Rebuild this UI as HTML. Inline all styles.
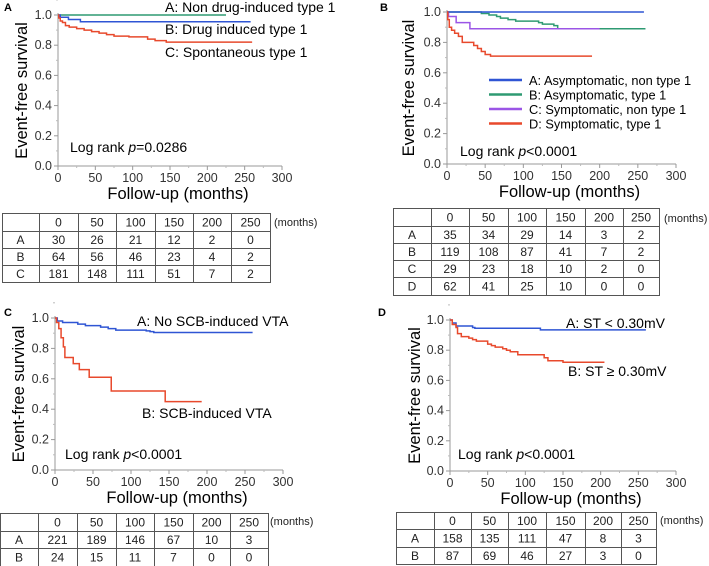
<!DOCTYPE html>
<html><head><meta charset="utf-8"><style>
html,body{margin:0;padding:0;background:#fff;}
svg{display:block;font-family:"Liberation Sans",sans-serif;}
</style></head><body>
<svg id="fig" width="709" height="566" viewBox="0 0 709 566"></svg>
<script>
// ----- data -----
const xTicks = [0,50,100,150,200,250,300];
const yTicks = [0,0.2,0.4,0.6,0.8,1.0];
const tableCols = ["0","50","100","150","200","250"];

const aNames = ["A: Non drug-induced type 1","B: Drug induced type 1","C: Spontaneous type 1"];
const aGreenT = [0,225];           const aGreenS = [1,1];
const aBlueT  = [0,3,14,30,258];   const aBlueS  = [1,0.985,0.97,0.955,0.955];
const aRedT = [0,1,3,6,10,15,25,35,45,55,65,75,95,120,130,145,260];
const aRedS = [1,0.98,0.96,0.95,0.93,0.92,0.91,0.9,0.89,0.88,0.87,0.86,0.855,0.84,0.83,0.82,0.82];
const aRows = [["A","30","26","21","12","2","0"],["B","64","56","46","23","4","2"],["C","181","148","111","51","7","2"]];

const bNames = ["A: Asymptomatic, non type 1","B: Asymptomatic, type 1","C: Symptomatic, non type 1","D: Symptomatic, type 1"];
const bAT = [0,258]; const bAS = [1,1];
const bBT = [0,45,55,65,70,80,90,120,125,140,145,260];
const bBS = [1,0.99,0.98,0.97,0.96,0.95,0.94,0.93,0.92,0.91,0.89,0.89];
const bCT = [0,2,12,30,200]; const bCS = [1,0.97,0.93,0.89,0.89];
const bDT = [0,1,3,6,10,15,20,35,40,45,50,57,190];
const bDS = [1,0.95,0.9,0.88,0.86,0.84,0.8,0.78,0.76,0.74,0.72,0.71,0.71];
const bRows = [["A","35","34","29","14","3","2"],["B","119","108","87","41","7","2"],["C","29","23","18","10","2","0"],["D","62","41","25","10","0","0"]];

const cNames = ["A: No SCB-induced VTA","B: SCB-induced VTA"];
const cAT = [0,3,10,30,40,60,70,80,120,125,130,260];
const cAS = [1,0.98,0.97,0.96,0.95,0.94,0.93,0.92,0.915,0.91,0.905,0.905];
const cBT = [0,2,5,8,11,13,24,32,45,74,145,193];
const cBS = [1,0.97,0.93,0.87,0.81,0.74,0.7,0.66,0.61,0.52,0.45,0.45];
const cRows = [["A","221","189","146","67","10","3"],["B","24","15","11","7","0","0"]];

const dNames = ["A: ST < 0.30mV","B: ST \u2265 0.30mV"];
const dAT = [0,3,8,30,33,120,260]; const dAS = [1,0.98,0.96,0.95,0.945,0.935,0.935];
const dBT = [0,3,8,10,15,25,30,35,50,55,60,70,75,80,90,125,130,150,205];
const dBS = [1,0.97,0.95,0.91,0.89,0.88,0.87,0.86,0.84,0.83,0.82,0.81,0.8,0.79,0.77,0.75,0.73,0.72,0.72];
const dRows = [["A","158","135","111","47","8","3"],["B","87","69","46","27","3","0"]];

const BLUE="#2f55d4", GREEN="#2e9a72", RED="#e8492c", PURPLE="#9b55e6";
const NS="http://www.w3.org/2000/svg";
const svg=document.getElementById('fig');
function el(tag,attrs,parent,txt){const e=document.createElementNS(NS,tag);for(const k in attrs)e.setAttribute(k,attrs[k]);if(txt!==undefined)e.textContent=txt;(parent||svg).appendChild(e);return e;}

function panel(g, letter, ax){
  const sx=t=>ax.x0+(ax.x300-ax.x0)*t/300;
  const sy=v=>ax.y0+(ax.y1-ax.y0)*v;
  const p=el('g',{},svg);
  
  
  const lt=el('text',{x:ax.lx,y:ax.ly,'font-size':11,'font-weight':'bold'},p,letter);
  
  
  el('line',{x1:ax.x0,y1:ax.y0,x2:ax.x0,y2:ax.y1-2,stroke:'#999','stroke-width':1},p);
  el('line',{x1:ax.x0,y1:ax.y0,x2:sx(300),y2:ax.y0,stroke:'#999','stroke-width':1},p);
  yTicks.forEach(v=>{
    el('line',{x1:ax.x0-4,x2:ax.x0,y1:sy(v),y2:sy(v),stroke:'#999'},p);
    el('line',{x1:ax.x0-2,x2:ax.x0,y1:sy(v+0.1),y2:sy(v+0.1),stroke:'#bbb'},p);
    const t=el('text',{x:ax.x0-6,y:sy(v)+4,'font-size':12.5,'text-anchor':'end',fill:'#333'},p,v.toFixed(1));
    
    
  });
  xTicks.forEach(v=>{
    el('line',{x1:sx(v),x2:sx(v),y1:ax.y0,y2:ax.y0+4,stroke:'#999'},p);
    if(v<300) el('line',{x1:sx(v+25),x2:sx(v+25),y1:ax.y0,y2:ax.y0+2,stroke:'#bbb'},p);
    const t=el('text',{x:sx(v),y:ax.y0+16,'font-size':12.5,'text-anchor':'middle',fill:'#333'},p,String(v));
    
    
  });
  const xt=el('text',{x:(ax.x0+sx(300))/2+8,y:ax.y0+33,'font-size':16.5,'text-anchor':'middle'},p,'Follow-up (months)');
  
  
  const yc=(ax.y0+ax.y1)/2;
  const yt=el('text',{x:ax.ytx,y:yc,'font-size':16.5,'text-anchor':'middle',transform:`rotate(-90 ${ax.ytx} ${yc})`},p,'Event-free survival');
  
  
  const lr=el('text',{x:ax.lrx,y:ax.lry,'font-size':14},p);
  
  
  el('tspan',{},lr,'Log rank ');el('tspan',{'font-style':'italic'},lr,'p');el('tspan',{},lr,ax.pval);
  return {p,sx,sy};
}
function curve(P,T,S,color,name){
  let d='M'+P.sx(T[0])+' '+P.sy(S[0]);
  for(let i=1;i<T.length;i++){d+=' H'+P.sx(T[i])+' V'+P.sy(S[i]);}
  const c=el('path',{d:d,fill:'none',stroke:color,'stroke-width':1.5},P.p);
  
  
}
function label(P,x,y,txt,name,fs){
  const t=el('text',{x:x,y:y,'font-size':fs||14,'textLength':'','lengthAdjust':'spacingAndGlyphs'},P.p,txt);
  t.removeAttribute('textLength');
  
  
}
function table(cols,rowYs,rows,mx,my,name){
  const g=el('g',{},svg);
  
  
  const X0=cols[0],X1=cols[cols.length-1],Y0=rowYs[0],Y1=rowYs[rowYs.length-1];
  el('rect',{x:X0+0.5,y:Y0+0.5,width:X1-X0,height:Y1-Y0,fill:'none',stroke:'#555'},g);
  cols.slice(1,-1).forEach(x=>el('line',{x1:x+0.5,x2:x+0.5,y1:Y0,y2:Y1,stroke:'#555'},g));
  rowYs.slice(1,-1).forEach(y=>el('line',{x1:X0,x2:X1,y1:y+0.5,y2:y+0.5,stroke:'#555'},g));
  const all=[[""].concat(tableCols)].concat(rows);
  all.forEach((r,ri)=>r.forEach((v,ci)=>{
    const t=el('text',{x:(cols[ci]+cols[ci+1])/2,y:(rowYs[ri]+rowYs[ri+1])/2+4.5,'font-size':12,'text-anchor':'middle',fill:'#222'},g,v);
    
    
  }));
  const m=el('text',{x:mx,y:my,'font-size':11,fill:'#222'},g,'(months)');
  
  
}

// Panel A
let P=panel(svg,'A',{x0:58,x300:282,y0:166,y1:15,lx:4,ly:11,ytx:27,lrx:70,lry:152,pval:'=0.0286'});
curve(P,aGreenT,aGreenS,GREEN,'curve-a-non-drug-induced');
curve(P,aBlueT,aBlueS,BLUE,'curve-b-drug-induced');
curve(P,aRedT,aRedS,RED,'curve-c-spontaneous');
label(P,165,12,aNames[0],'label-a');label(P,165,34,aNames[1],'label-b');label(P,165,57,aNames[2],'label-c');
table([2,39,78,116,155,193,231,270],[213,231,248,265,282],aRows,274,226,'risk-table-a');

// Panel B
P=panel(svg,'B',{x0:447,x300:676,y0:164,y1:12,lx:380,ly:11,ytx:414,lrx:460,lry:156,pval:'<0.0001'});
curve(P,bBT,bBS,GREEN,'curve-b-asym-type1');
curve(P,bCT,bCS,PURPLE,'curve-c-sym-non-type1');
curve(P,bAT,bAS,BLUE,'curve-a-asym-non-type1');
curve(P,bDT,bDS,RED,'curve-d-sym-type1');
[BLUE,GREEN,PURPLE,RED].forEach((c,i)=>{
  const y=80+i*14.5;
  const l=el('line',{x1:489,x2:522,y1:y,y2:y,stroke:c,'stroke-width':2.5},P.p);
  
  
  label(P,529,y+5,bNames[i],'legend-entry',12.8);
});
table([393,431,469,508,546,585,623,659],[208,226,243,260,277,295],bRows,664,222,'risk-table-b');

// Panel C
P=panel(svg,'C',{x0:55,x300:283,y0:470,y1:318,lx:4,ly:316,ytx:24,lrx:65,lry:459,pval:'<0.0001'});
curve(P,cAT,cAS,BLUE,'curve-a-no-scb-vta');
curve(P,cBT,cBS,RED,'curve-b-scb-vta');
label(P,137,326,cNames[0],'label-a');label(P,142,418,cNames[1],'label-b');
table([0,38,77,116,154,193,230,268],[513,531,548,566],cRows,270,525,'risk-table-c');

// Panel D
P=panel(svg,'D',{x0:450,x300:676,y0:471,y1:320,lx:378,ly:316,ytx:420,lrx:458,lry:459,pval:'<0.0001'});
curve(P,dAT,dAS,BLUE,'curve-a-st-low');
curve(P,dBT,dBS,RED,'curve-b-st-high');
label(P,566,328,dNames[0],'label-a');label(P,568,376,dNames[1],'label-b');
table([396,434,471,508,546,585,621,656],[512,529,547,564],dRows,660,524,'risk-table-d');
</script>
</body></html>
